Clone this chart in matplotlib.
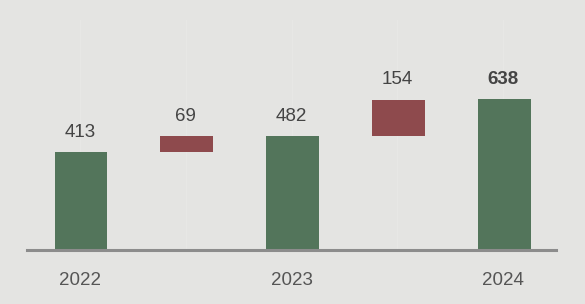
import matplotlib
matplotlib.use("Agg")
import matplotlib.pyplot as plt

# waterfall data
steps = ["2022", "d1", "2023", "d2", "2024"]
values = [413, 69, 482, 154, 638]
is_total = [True, False, True, False, True]
tick_labels = ["2022", "", "2023", "", "2024"]

green = "#53755b"
red = "#8e4a4d"
bg = "#e4e4e2"

plt.rcParams["font.family"] = ["Liberation Sans", "DejaVu Sans"]

fig = plt.figure(figsize=(5.85, 3.04), dpi=100, facecolor=bg)
ax = fig.add_axes([27 / 585, 54 / 304, 529 / 585, 230 / 304], facecolor=bg)

x = list(range(len(steps)))
running = 0
for i, v in enumerate(values):
    if is_total[i]:
        bottom, h, c = 0, v, green
        running = v
    else:
        bottom, h, c = running, v, red
        running += v
    ax.bar(i + 0.01, h, bottom=bottom, width=0.5, color=c, zorder=2)
    ax.annotate(str(v), (i, bottom + h), xytext=(0, 8), textcoords="offset points",
                ha="center", va="bottom", fontsize=13.5, color="#444444",
                fontweight="bold" if i == len(values) - 1 else "normal")

# faint vertical guides
for i in x:
    ax.axvline(i, color="#e7e7e5", lw=1, zorder=0)

ax.set_xlim(-0.5, 4.5)
ax.set_ylim(0, 972)
ax.axhline(0, color="#8c8c8c", lw=2.2, zorder=3, clip_on=False)
for s in ax.spines.values():
    s.set_visible(False)
ax.set_yticks([])
ax.set_xticks(x)
ax.set_xticklabels(tick_labels, fontsize=13.5, color="#555555")
ax.tick_params(axis="x", length=0, pad=16)

fig.savefig("out.png", dpi=100, facecolor=bg)
